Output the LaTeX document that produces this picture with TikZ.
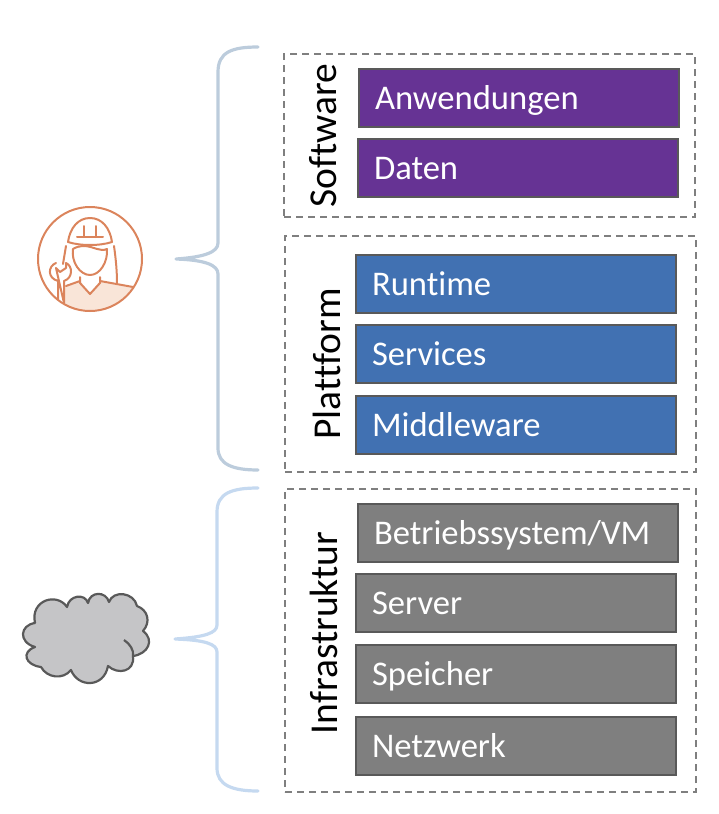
\documentclass[tikz,border=0pt]{standalone}
\usepackage{fontspec}
\setmainfont[Ligatures=NoCommon]{Carlito}
\usepackage{xcolor}
\usetikzlibrary{positioning}
\definecolor{softcol}{RGB}{102, 51, 148}
\definecolor{platcol}{RGB}{65, 113, 178}
\definecolor{infracol}{RGB}{127, 127, 127}
\definecolor{edgecol}{RGB}{89, 89, 89}
\definecolor{bracetop}{RGB}{188, 204, 220}
\definecolor{bracelow}{RGB}{197, 217, 240}
\definecolor{iconcol}{RGB}{219, 132, 92}
\definecolor{iconfill}{RGB}{249, 229, 216}
\definecolor{cloudcol}{RGB}{197, 197, 199}
\tikzstyle{layer} = [rectangle, minimum height=58pt, text width=288pt, inner xsep=16pt, inner ysep=0pt, text height=27pt, text depth=4pt, draw=edgecol, line width=2pt, text=white, font=\fontsize{34.6}{35}\selectfont, anchor=north west]
\tikzstyle{group} = [rectangle, draw=infracol, line width=2pt, dash pattern=on 7pt off 5pt, minimum width=411pt, anchor=north west, inner sep=0pt]
\tikzstyle{title} = [rotate=90, font=\fontsize{39.5}{40}\selectfont, inner sep=0pt]
\tikzstyle{brace} = [line width=3.2pt, line cap=round, line join=round]
\tikzstyle{icon} = [draw=iconcol, line width=2pt, line cap=round, line join=round]

\begin{document}
\begin{tikzpicture}[x=1pt, y=-1pt]
    \useasboundingbox (0,0) rectangle (718,814);

    % Groups
    \node[group, minimum height=163pt] (software) at (283,53) {};
    \node[group, minimum height=236pt] (plattform) at (284,235) {};
    \node[group, minimum height=303pt] (infra) at (284,488) {};
    \node[title] (softlabel) at (323,136) {Software};
    \node[title] (platlabel) at (327,364) {Plattform};
    \node[title] (infralabel) at (324,633) {Infrastruktur};

    % Layers
    \node[layer, fill=softcol] (anw) at (358,68) {Anwendungen};
    \node[layer, fill=softcol] (daten) at (357,138) {Daten};
    \node[layer, fill=platcol] (runtime) at (355,254) {Runtime};
    \node[layer, fill=platcol] (services) at (355,324) {Services};
    \node[layer, fill=platcol] (middleware) at (355,395) {Middleware};
    \node[layer, fill=infracol] (os) at (357,503) {Betriebssystem/VM};
    \node[layer, fill=infracol] (server) at (355,573) {Server};
    \node[layer, fill=infracol] (speicher) at (355,644) {Speicher};
    \node[layer, fill=infracol] (netz) at (355,716) {Netzwerk};

    % Braces
    \draw[brace, bracetop] (258,47) .. controls (232,47) and (218,52) .. (218,72) -- (218,243)
        .. controls (218,252) and (205,257) .. (176,259) .. controls (205,260) and (218,265) .. (218,274)
        -- (218,448) .. controls (218,464) and (232,470) .. (258,470);
    \draw[brace, bracelow] (258,488) .. controls (232,488) and (217,493) .. (217,512) -- (217,625)
        .. controls (217,633) and (205,637) .. (175,639) .. controls (205,640) and (217,644) .. (217,652)
        -- (217,768) .. controls (217,785) and (232,791) .. (258,791);

    % Worker icon
    \fill[iconfill] (64,286) -- (80,281) -- (90,294) -- (100,281) -- (133,287)
        .. controls (122,302) and (107,311) .. (90,311) .. controls (80,311) and (71,308) .. (64,304) -- cycle;
    \draw[icon] (90,259) circle (52);
    \draw[icon] (68,242) .. controls (70,228) and (78,218) .. (90,218) .. controls (102,218) and (110,228) .. (112,242);
    \draw[icon] (68,242) .. controls (80,246) and (100,246) .. (112,242);
    \draw[icon] (77,237) -- (103,237) (84,226) -- (84,237) (96,226) -- (96,237);
    \draw[icon] (66,246) -- (63,264) (114,246) .. controls (116,260) and (117,272) .. (117,283);
    \draw[icon] (73,249) .. controls (71,262) and (80,275) .. (90,275) .. controls (100,275) and (108,262) .. (107,249)
        .. controls (100,252) and (95,247) .. (85,246) .. controls (80,246) and (76,247) .. (73,249);
    \draw[icon] (80,277) -- (80,283) -- (90,294) -- (100,283) -- (100,277);
    \draw[icon] (66,286) -- (80,281) (100,281) -- (133,287);
    \draw[icon] (56,263) .. controls (48,266) and (47,278) .. (58,281) -- (58,299)
        (64,303) -- (64,281) .. controls (73,278) and (73,266) .. (66,263) -- (66,268) -- (60,272) -- (56,268) -- cycle;

    % Cloud
    \draw[draw=edgecol, line width=2.2pt, fill=cloudcol, line join=round] (35,623)
        .. controls (30,600) and (57,592) .. (67,607)
        .. controls (69,595) and (85,593) .. (88,603)
        .. controls (90,591) and (106,591) .. (109,602)
        .. controls (113,590) and (134,592) .. (137,606)
        .. controls (148,610) and (151,622) .. (143,631)
        .. controls (155,640) and (148,654) .. (133,656)
        .. controls (135,672) and (118,675) .. (108,666)
        .. controls (104,688) and (78,688) .. (71,670)
        .. controls (63,680) and (47,678) .. (41,667)
        .. controls (25,665) and (21,652) .. (35,647)
        .. controls (18,642) and (20,625) .. (35,623) -- cycle;
    \draw[edgecol, line width=2.2pt] (124,640) .. controls (130,644) and (134,650) .. (133,656);
\end{tikzpicture}
\end{document}
